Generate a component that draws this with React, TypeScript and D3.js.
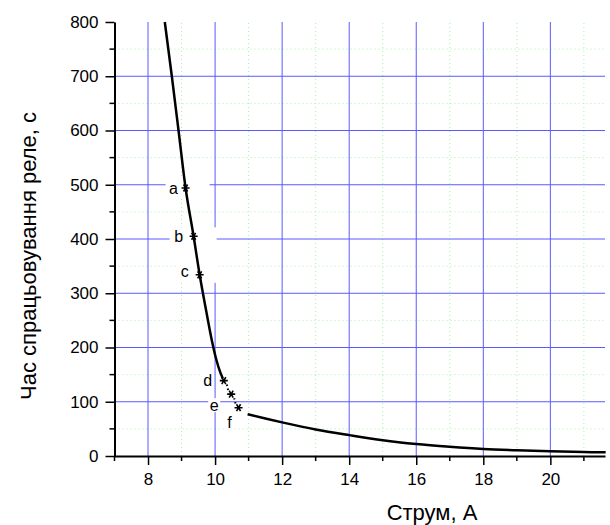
import React from "react";
import * as d3 from "d3";

// main curve (above the marked points) and the tail after them
const upperCurve: [number, number][] = [
  [8.5, 800], [8.71, 700], [8.91, 600], [9.12, 494], [9.36, 405], [9.54, 334],
  [9.73, 269], [9.9, 214], [10.04, 177], [10.15, 155], [10.23, 143],
];
const lowerCurve: [number, number][] = [
  [10.97, 77], [11.5, 69], [12, 62], [13, 49], [14, 38.5], [15, 29], [16, 22],
  [17, 17], [18, 13], [19, 10.5], [20, 8.6], [21, 7.3], [21.65, 6.8],
];
const markNames = ["a", "b", "c", "d", "e", "f"];
const markX = [9.12, 9.36, 9.54, 10.26, 10.48, 10.7];
const markY = [494, 405, 334, 139, 114, 89];
const xTicks = [8, 10, 12, 14, 16, 18, 20];
const yTicks = [0, 100, 200, 300, 400, 500, 600, 700, 800];

// label offsets and white label boxes (px relative to the marker)
const labelStyle = [
  { dx: -12, dy: 6, box: [-20, 24, -9, 8] },
  { dx: -15, dy: 6, box: [-24, 23, -9, 9] },
  { dx: -15, dy: 2, box: [-22, 17, -30, 8] },
  { dx: -16, dy: 5, box: [-22, -10, -8, 7] },
  { dx: -17, dy: 17, box: [-23, -11, 4, 18] },
  { dx: -9, dy: 20, box: [-15, -3, 7, 21] },
];

export default function App() {
  const svgRef = React.useRef<SVGSVGElement>(null);
  const W = 610, H = 525;

  React.useEffect(() => {
    const x = d3.scaleLinear().domain([7, 21.63]).range([114.5, 605]);
    const y = d3.scaleLinear().domain([0, 800]).range([456, 22]);
    const font = "'Liberation Sans', Arial, sans-serif";

    const svg = d3.select(svgRef.current);
    svg.selectAll("*").remove();
    svg.append("rect").attr("width", W).attr("height", H).attr("fill", "#fff");

    const [x0, x1] = x.range();
    const [y0, y1] = y.range();

    // minor grid
    const g = svg.append("g");
    d3.range(9, 22, 2).forEach((v) => {
      g.append("line").attr("x1", x(v)).attr("x2", x(v)).attr("y1", y0).attr("y2", y1)
        .attr("stroke", "#a8f0a8").attr("stroke-width", 1).attr("stroke-dasharray", "1,3");
    });
    d3.range(50, 800, 100).forEach((v) => {
      g.append("line").attr("x1", x0).attr("x2", x1).attr("y1", y(v)).attr("y2", y(v))
        .attr("stroke", "#a8f0a8").attr("stroke-width", 1).attr("stroke-dasharray", "1,3");
    });
    // major grid
    xTicks.forEach((v) => {
      g.append("line").attr("x1", x(v)).attr("x2", x(v)).attr("y1", y0).attr("y2", y1)
        .attr("stroke", "#5a5aff").attr("stroke-width", 1);
    });
    yTicks.slice(1, -1).forEach((v) => {
      g.append("line").attr("x1", x0).attr("x2", x1).attr("y1", y(v)).attr("y2", y(v))
        .attr("stroke", "#5a5aff").attr("stroke-width", 1);
    });

    // white label boxes
    markNames.forEach((_, i) => {
      const b = labelStyle[i].box;
      const px = x(markX[i]), py = y(markY[i]);
      svg.append("rect").attr("x", px + b[0]).attr("y", py + b[2])
        .attr("width", b[1] - b[0]).attr("height", b[3] - b[2]).attr("fill", "#fff");
    });

    // curves
    const line = d3.line<[number, number]>().x((d) => x(d[0])).y((d) => y(d[1]))
      .curve(d3.curveMonotoneX);
    [upperCurve, lowerCurve].forEach((c) => {
      svg.append("path").attr("d", line(c)).attr("fill", "none")
        .attr("stroke", "#000").attr("stroke-width", 2.5);
    });
    // dotted links d-e-f
    for (let i = 3; i < 5; i++) {
      svg.append("line").attr("x1", x(markX[i]) + 3).attr("y1", y(markY[i]) + 4)
        .attr("x2", x(markX[i + 1]) - 3).attr("y2", y(markY[i + 1]) - 4)
        .attr("stroke", "#000").attr("stroke-width", 2).attr("stroke-dasharray", "1.5,2.5");
    }

    // markers + labels
    const sym = d3.symbol().type(d3.symbolAsterisk).size(45);
    markNames.forEach((n, i) => {
      const px = x(markX[i]), py = y(markY[i]);
      svg.append("path").attr("d", sym()).attr("transform", `translate(${px},${py}) rotate(90)`)
        .attr("fill", "none").attr("stroke", "#000").attr("stroke-width", 1.6);
      svg.append("text").attr("x", px + labelStyle[i].dx).attr("y", py + labelStyle[i].dy)
        .attr("text-anchor", "middle").attr("font-family", font).attr("font-size", 16)
        .attr("fill", "#000").text(n);
    });

    // axes
    const xAxis = svg.append("g").attr("transform", `translate(0,${y0})`)
      .call(d3.axisBottom(x).tickValues(xTicks).tickSize(9).tickPadding(8).tickSizeOuter(0));
    xAxis.select(".domain").attr("stroke-width", 2);
    xAxis.selectAll("text").attr("font-family", font).attr("font-size", 17);
    xAxis.selectAll(".tick line").attr("stroke-width", 1.5);
    d3.range(7, 22, 2).forEach((v) => {
      xAxis.append("line").attr("x1", x(v)).attr("x2", x(v)).attr("y1", 0).attr("y2", 5)
        .attr("stroke", "#000").attr("stroke-width", 1.5);
    });

    const yAxis = svg.append("g").attr("transform", `translate(${x0},0)`)
      .call(d3.axisLeft(y).tickValues(yTicks).tickSize(9).tickPadding(7).tickSizeOuter(0));
    yAxis.select(".domain").attr("stroke-width", 2);
    yAxis.selectAll("text").attr("font-family", font).attr("font-size", 17);
    yAxis.selectAll(".tick line").attr("stroke-width", 1.5);
    d3.range(50, 800, 100).forEach((v) => {
      yAxis.append("line").attr("x1", -5).attr("x2", 0).attr("y1", y(v)).attr("y2", y(v))
        .attr("stroke", "#000").attr("stroke-width", 1.5);
    });

    // titles
    svg.append("text").attr("x", 432).attr("y", 520).attr("text-anchor", "middle")
      .attr("font-family", font).attr("font-size", 22).text("Струм, А");
    svg.append("text").attr("transform", `translate(36,256) rotate(-90)`)
      .attr("text-anchor", "middle").attr("font-family", font).attr("font-size", 22)
      .text("Час спрацьовування реле, с");
  }, []);

  return (
    <svg ref={svgRef} width={W} height={H}
      style={{ position: "absolute", left: 0, top: 0, display: "block" }} />
  );
}
